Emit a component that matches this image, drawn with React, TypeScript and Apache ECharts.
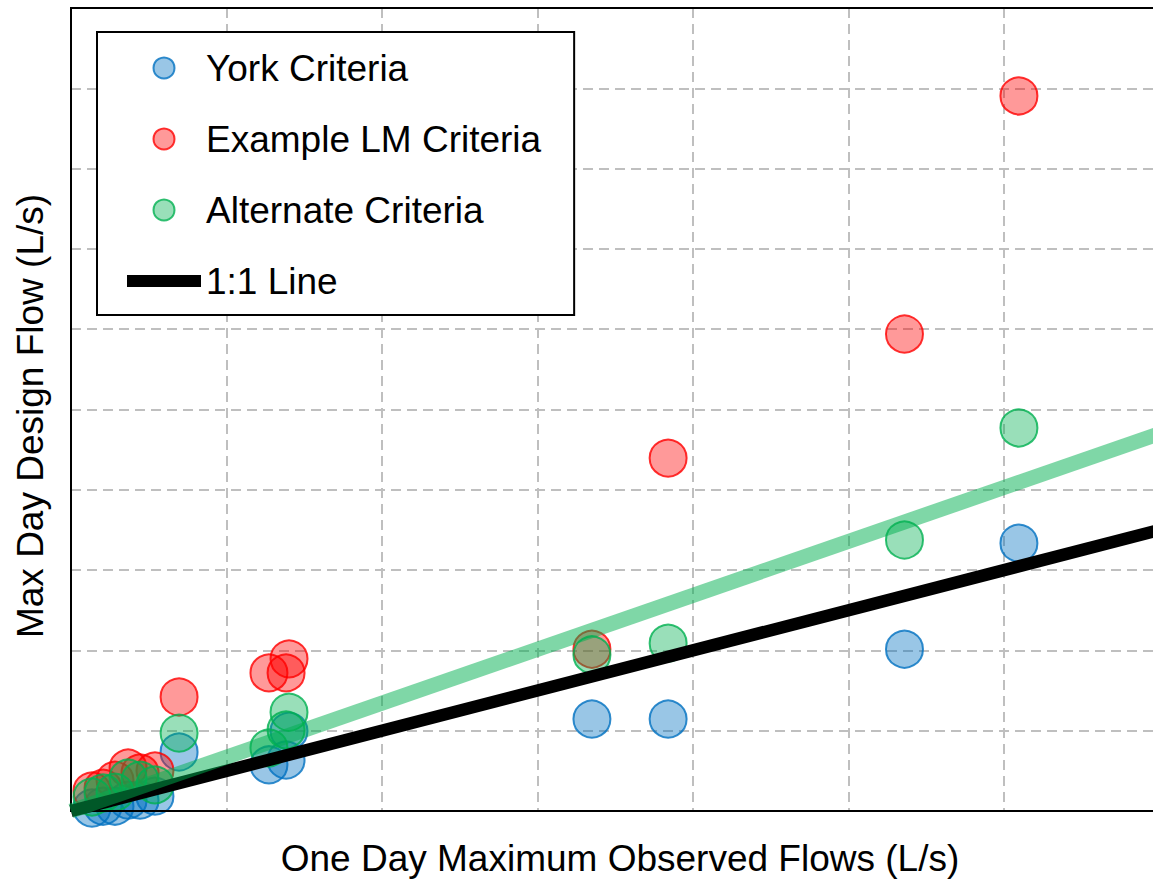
import React, { useEffect, useRef } from "react";
import * as echarts from "echarts";

// Observed one-day maximum flows (L/s) per site
const observedFlows = [1.35, 2.06, 2.83, 3.67, 4.44, 5.4, 6.95, 12.73, 13.83, 14.02, 33.5, 38.4, 53.6, 60.96];
// Max day design flows (L/s) per criteria
const yorkCriteria = [0.75, 1.2, 1.2, 2.7, 2.7, 3.7, 14.7, 11.5, 12.7, 19.9, 22.9, 22.9, 40.3, 66.7];
const lmCriteria = [5.0, 5.7, 7.7, 10.7, 9.5, 10.0, 28.4, 34.4, 34.4, 37.9, 40.3, 87.9, 118.8, 178.1];
const alternateCriteria = [3.5, 4.5, 4.7, 8.2, 7.7, 6.5, 19.4, 15.7, 20.2, 24.6, 38.9, 41.8, 67.5, 95.4];
// Reference lines
const oneToOneX = [0, 70];
const oneToOneY = [0, 70];
const alternateTrendX = [0, 70];
const alternateTrendY = [0, 94];

const seriesNames = ["York Criteria", "Example LM Criteria", "Alternate Criteria", "1:1 Line"];
const xTitle = "One Day Maximum Observed Flows (L/s)";
const yTitle = "Max Day Design Flow (L/s)";

const FONT = "'Liberation Sans', Arial, sans-serif";

const pairs = (xs: number[], ys: number[]) => xs.map((x, i) => [x, ys[i]]);

export default function App() {
  const ref = useRef<HTMLDivElement>(null);
  useEffect(() => {
    if (!ref.current) return;
    const chart = echarts.init(ref.current, undefined, { renderer: "svg" });
    const scatterBase = {
      type: "scatter" as const,
      symbol: "circle",
      symbolSize: 37,
    };
    chart.setOption({
      animation: false,
      backgroundColor: "#fff",
      grid: {
        left: 71,
        top: 8,
        right: 0.5,
        bottom: 70,
        show: true,
        borderColor: "#000",
        borderWidth: 2,
        backgroundColor: "transparent",
        z: 3,
      },
      xAxis: {
        type: "value",
        min: 0,
        max: 70,
        interval: 10,
        axisLine: { show: false },
        axisTick: { show: false },
        axisLabel: { show: false },
        splitLine: { show: true, lineStyle: { color: "#bfbfbf", width: 2, type: [10, 6] } },
      },
      yAxis: {
        type: "value",
        min: 0,
        max: 200,
        interval: 20,
        axisLine: { show: false },
        axisTick: { show: false },
        axisLabel: { show: false },
        splitLine: { show: true, lineStyle: { color: "#bfbfbf", width: 2, type: [10, 6] } },
      },
      legend: {
        left: 97,
        top: 32,
        orient: "vertical",
        align: "left",
        backgroundColor: "#fff",
        borderColor: "#000",
        borderWidth: 2,
        borderRadius: 0,
        padding: [16, 33, 14, 24],
        itemWidth: 74,
        itemHeight: 21,
        itemGap: 31,
        z: 10,
        textStyle: { fontFamily: FONT, fontSize: 37, color: "#000", lineHeight: 40 },
        data: [
          { name: seriesNames[0] },
          { name: seriesNames[1] },
          { name: seriesNames[2] },
          {
            name: seriesNames[3],
            lineStyle: { width: 12, color: "#000" },
            itemStyle: { opacity: 0 },
          },
        ],
      },
      series: [
        {
          ...scatterBase,
          name: seriesNames[0],
          data: pairs(observedFlows, yorkCriteria),
          itemStyle: { color: "rgba(0,112,192,0.5)", borderColor: "#0070c0", borderWidth: 2 },
        },
        {
          ...scatterBase,
          name: seriesNames[1],
          data: pairs(observedFlows, lmCriteria),
          itemStyle: { color: "rgba(255,0,0,0.5)", borderColor: "#ff0000", borderWidth: 2 },
        },
        {
          ...scatterBase,
          name: seriesNames[2],
          data: pairs(observedFlows, alternateCriteria),
          itemStyle: { color: "rgba(0,176,80,0.5)", borderColor: "#00b050", borderWidth: 2 },
        },
        {
          type: "line",
          name: seriesNames[3],
          data: pairs(oneToOneX, oneToOneY),
          symbol: "none",
          showSymbol: false,
          lineStyle: { color: "#000", width: 12.5 },
          itemStyle: { color: "#000" },
        },
        {
          type: "line",
          name: "Alternate Trend",
          data: pairs(alternateTrendX, alternateTrendY),
          symbol: "none",
          showSymbol: false,
          lineStyle: { color: "rgba(0,176,80,0.5)", width: 15 },
          itemStyle: { color: "rgba(0,176,80,0.5)" },
        },
      ],
      graphic: [
        {
          type: "text",
          x: 620,
          y: 858,
          style: {
            text: xTitle,
            fontFamily: FONT,
            fontSize: 37,
            fill: "#000",
            textAlign: "center",
            textVerticalAlign: "middle",
            align: "center",
            verticalAlign: "middle",
          },
        },
        {
          type: "text",
          x: 30,
          y: 416,
          rotation: Math.PI / 2,
          style: {
            text: yTitle,
            fontFamily: FONT,
            fontSize: 37,
            fill: "#000",
            textAlign: "center",
            textVerticalAlign: "middle",
            align: "center",
            verticalAlign: "middle",
          },
        },
      ],
    });
    return () => chart.dispose();
  }, []);
  return (
    <div
      style={{
        position: "absolute",
        left: 0,
        top: 0,
        width: 1153,
        height: 881,
        overflow: "hidden",
      }}
    >
      <div ref={ref} style={{ width: 1160, height: 881 }} />
    </div>
  );
}
